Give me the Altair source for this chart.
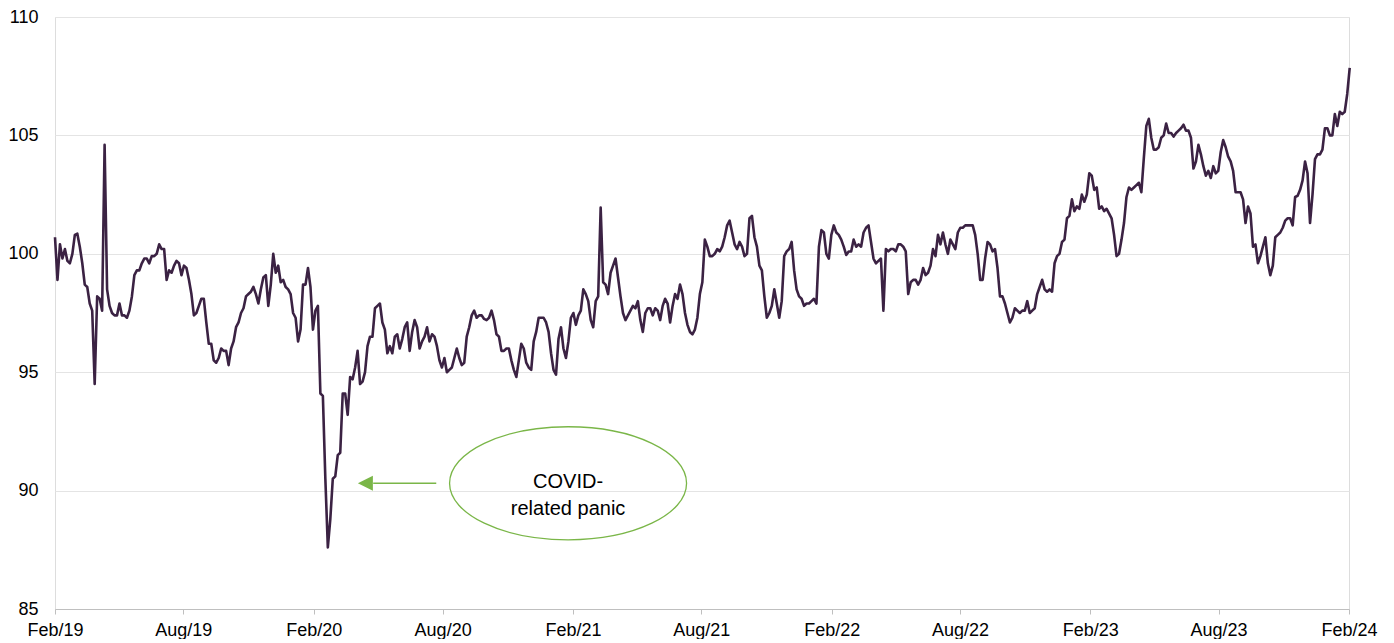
import altair as alt
import pandas as pd

# Index values, Feb 2019 -> Feb 2024.
# weekly_values: one value per week starting 2019-02-01
weekly_values = [
    100.7, 100.4, 100.2, 99.6, 100.8, 100.3, 98.7, 97.9, 94.5, 98.1,
    104.6, 97.8, 97.4, 97.9, 97.4, 97.6, 99.1, 99.3, 99.8, 99.6,
    99.9, 100.4, 100.2, 99.3, 99.5, 99.6, 99.5, 98.9, 97.4, 97.8,
    98.1, 96.2, 95.5, 95.6, 95.9, 95.3, 96.3, 97.1, 97.7, 98.3,
    98.6, 97.9, 99.0, 97.8, 100.0, 99.5, 98.9, 98.5, 97.5, 96.3,
    98.7, 99.4, 96.8, 97.8, 94.0, 87.6, 90.5, 91.5, 94.1, 93.2,
    94.7, 95.9, 94.6, 96.1, 96.5, 97.8, 97.1, 95.8, 95.8, 96.6,
    96.4, 97.1, 96.7, 96.9, 96.3, 96.9, 96.6, 96.1, 95.2, 95.0,
    95.2, 96.0, 95.3, 96.5, 97.4, 97.3, 97.4, 97.2, 97.6, 96.6,
    95.9, 96.0, 95.5, 94.8, 96.2, 95.4, 95.1, 96.7, 97.3, 97.1,
    95.8, 94.9, 96.9, 95.6, 97.3, 97.0, 97.6, 98.3, 97.2, 98.0,
    101.95, 98.7, 99.2, 99.8, 98.2, 97.2, 97.6, 97.7, 97.2, 97.5,
    97.7, 97.7, 97.2, 98.1, 97.1, 98.3, 98.7, 97.5, 96.7, 96.8,
    98.3, 100.6, 99.9, 100.0, 100.1, 100.7, 101.4, 100.4, 100.5, 99.9,
    101.5, 100.7, 99.5, 98.2, 97.5, 98.5, 97.3, 99.9, 100.2, 99.3,
    98.2, 97.8, 97.9, 98.1, 100.3, 100.9, 99.8, 101.2, 100.8, 100.3,
    100.1, 100.6, 100.4, 100.9, 101.2, 99.8, 99.7, 97.6, 100.1, 100.2,
    100.4, 100.3, 98.3, 98.9, 98.7, 99.4, 99.2, 100.2, 100.8, 100.9,
    100.0, 100.4, 100.9, 101.1, 101.2, 101.2, 100.0, 98.9, 100.5, 100.1,
    99.4, 98.2, 97.5, 97.3, 97.6, 97.6, 98.0, 97.6, 98.3, 98.9,
    98.4, 98.4, 99.9, 100.5, 101.5, 102.3, 102.0, 102.5, 102.5, 103.3,
    102.8, 102.0, 101.9, 101.5, 99.9, 100.6, 102.4, 102.7, 102.9, 102.6,
    105.4, 104.9, 104.4, 104.9, 105.5, 105.1, 105.1, 105.3, 105.2, 104.9,
    103.9, 104.2, 103.3, 103.2, 103.4, 104.3, 104.5, 103.9, 102.6, 102.6,
    101.3, 101.7, 100.4, 99.9, 100.7, 99.1, 100.7, 100.9, 101.4, 101.5,
    102.4, 102.7, 103.9, 101.3, 104.0, 104.2, 105.3, 105.0, 105.9, 106.0,
    106.0, 107.85,
]
# midweek_values: the readings half a week after each weekly value
midweek_values = [
    98.9, 99.8, 99.7, 100.0, 100.85, 99.6, 98.6, 97.6, 98.2, 97.6,
    98.5, 97.5, 97.4, 97.4, 97.3, 98.2, 99.3, 99.6, 99.8, 99.9,
    100.0, 100.2, 98.9, 99.2, 99.7, 99.1, 99.4, 98.3, 97.5, 98.1,
    97.1, 96.2, 95.4, 96.0, 95.9, 96.0, 96.9, 97.5, 98.2, 98.4,
    98.3, 98.5, 99.1, 98.7, 99.2, 98.8, 98.6, 98.3, 97.3, 96.8,
    98.7, 98.6, 97.6, 94.1, 90.5, 88.8, 90.6, 91.6, 94.1, 94.8,
    95.2, 94.5, 95.0, 96.5, 97.7, 97.9, 96.8, 96.1, 96.5, 96.0,
    96.9, 95.9, 97.2, 96.0, 96.5, 96.3, 96.5, 95.5, 95.6, 95.1,
    95.6, 95.6, 95.4, 96.9, 97.6, 97.4, 97.25, 97.3, 97.2, 96.5,
    95.9, 96.0, 95.1, 95.5, 96.0, 95.2, 96.3, 97.3, 97.3, 96.7,
    95.1, 96.4, 96.0, 96.3, 97.5, 97.4, 98.5, 98.0, 96.9, 98.2,
    98.8, 98.3, 99.5, 99.0, 97.5, 97.4, 97.8, 98.0, 96.7, 97.7,
    97.4, 97.6, 97.8, 97.9, 97.8, 98.1, 98.3, 97.0, 96.6, 97.3,
    98.8, 100.3, 99.9, 100.2, 100.3, 101.2, 100.9, 100.2, 100.3, 100.0,
    101.6, 100.3, 99.3, 97.3, 97.8, 97.9, 98.0, 100.1, 100.5, 98.5,
    98.1, 97.9, 98.0, 97.9, 101.0, 100.0, 100.8, 100.9, 100.6, 99.95,
    100.1, 100.3, 100.3, 101.1, 100.5, 99.6, 99.8, 100.2, 100.2, 100.1,
    100.4, 100.1, 98.8, 98.9, 98.9, 99.1, 99.5, 99.9, 100.4, 100.4,
    100.6, 100.2, 101.1, 101.2, 101.2, 100.8, 98.9, 99.8, 100.4, 100.2,
    98.2, 97.9, 97.1, 97.7, 97.5, 97.6, 97.5, 97.7, 98.6, 98.5,
    98.5, 99.6, 100.0, 100.6, 101.6, 101.8, 101.9, 102.2, 103.4, 102.7,
    101.9, 101.8, 101.7, 100.8, 100.0, 101.3, 102.8, 102.8, 103.0, 104.05,
    105.7, 104.4, 104.5, 105.0, 105.1, 104.95, 105.2, 105.45, 105.2, 103.6,
    104.6, 103.7, 103.5, 103.7, 103.5, 104.8, 104.1, 103.5, 102.6, 102.3,
    102.0, 100.3, 99.6, 100.3, 99.6, 99.5, 100.8, 101.1, 101.5, 101.2,
    102.45, 103.1, 103.4, 102.5, 104.2, 104.4, 105.3, 105.0, 105.4, 105.9,
    106.75,
]
start_date = "2019-02-01"

tick_months = [(2019, 2), (2019, 8), (2020, 2), (2020, 8), (2021, 2), (2021, 8),
               (2022, 2), (2022, 8), (2023, 2), (2023, 8), (2024, 2)]
y_ticks = [85, 90, 95, 100, 105, 110]

annot_lines = ["COVID-", "related panic"]
annot_date = "2021-01-25"
annot_value = 90.38
ellipse_value = 90.31
arrow_from = "2020-07-23"
arrow_to = "2020-04-25"
arrow_head = "2020-04-14"

LINE = "#3b2243"
GREEN = "#7ab648"
FONT = "Liberation Sans"

week_dates = pd.date_range(start_date, periods=len(weekly_values), freq="7D")
mid_dates = week_dates[:len(midweek_values)] + pd.Timedelta(hours=84)
df = pd.concat([
    pd.DataFrame({"date": week_dates, "value": weekly_values}),
    pd.DataFrame({"date": mid_dates, "value": midweek_values}),
]).sort_values("date").reset_index(drop=True)

x_scale = alt.Scale(domain=[alt.DateTime(year=2019, month=2, date=1),
                            alt.DateTime(year=2024, month=2, date=1)], nice=False)
y_scale = alt.Scale(domain=[85, 110], nice=False, zero=False)

x_axis = alt.Axis(
    values=[alt.DateTime(year=y, month=m, date=1) for y, m in tick_months],
    format="%b/%y", grid=False, domainColor="#bfbfbf", tickColor="#bfbfbf",
    tickSize=5, labelPadding=7, labelFontSize=18, labelColor="#000000",
    labelFont=FONT, title=None, labelFlush=False, labelOverlap=False,
)
y_axis = alt.Axis(
    values=y_ticks, grid=True, gridColor="#e4e4e4", domain=False, ticks=False,
    tickSize=0, labelPadding=17, labelFontSize=18, labelColor="#000000",
    labelFont=FONT, title=None,
)

line = alt.Chart(df).mark_line(color=LINE, strokeWidth=2.6, strokeJoin="round").encode(
    x=alt.X("date:T", scale=x_scale, axis=x_axis),
    y=alt.Y("value:Q", scale=y_scale, axis=y_axis),
)

ell_df = pd.DataFrame({"date": [pd.Timestamp(annot_date)], "value": [ellipse_value]})
ellipse_path = ("M -1 0 C -1 -0.263 -0.552 -0.477 0 -0.477 C 0.552 -0.477 1 -0.263 1 0 "
                "C 1 0.263 0.552 0.477 0 0.477 C -0.552 0.477 -1 0.263 -1 0 Z")
ellipse = alt.Chart(ell_df).mark_point(
    shape=ellipse_path, size=237 * 237, filled=False, stroke=GREEN,
    strokeWidth=1.3, opacity=1,
).encode(x="date:T", y="value:Q")

txt_df = pd.DataFrame({"date": [pd.Timestamp(annot_date)], "value": [annot_value]})
text = alt.Chart(txt_df).mark_text(
    text=annot_lines, font=FONT, fontSize=20, color="#000000", align="center",
    baseline="middle", lineHeight=27,
).encode(x="date:T", y="value:Q")

arr_df = pd.DataFrame({"date": [pd.Timestamp(arrow_from)], "date2": [pd.Timestamp(arrow_to)],
                       "value": [ellipse_value]})
arrow_line = alt.Chart(arr_df).mark_rule(color=GREEN, strokeWidth=1.5).encode(
    x="date:T", x2="date2:T", y="value:Q")

head_df = pd.DataFrame({"date": [pd.Timestamp(arrow_head)], "value": [ellipse_value]})
arrow_head_mark = alt.Chart(head_df).mark_point(
    shape="M -1 0 L 1 -1 L 1 1 Z", size=225, filled=True, fill=GREEN,
    stroke=GREEN, strokeWidth=0, opacity=1,
).encode(x="date:T", y="value:Q")

chart = alt.layer(line, arrow_line, arrow_head_mark, ellipse, text).properties(
    width=1294, height=592,
    padding={"left": 47, "top": 9, "right": 37, "bottom": 30},
    autosize="none",
).configure_view(stroke=None).configure(background="white")

chart.save("out.html", embed_options={"renderer": "svg", "actions": False})
